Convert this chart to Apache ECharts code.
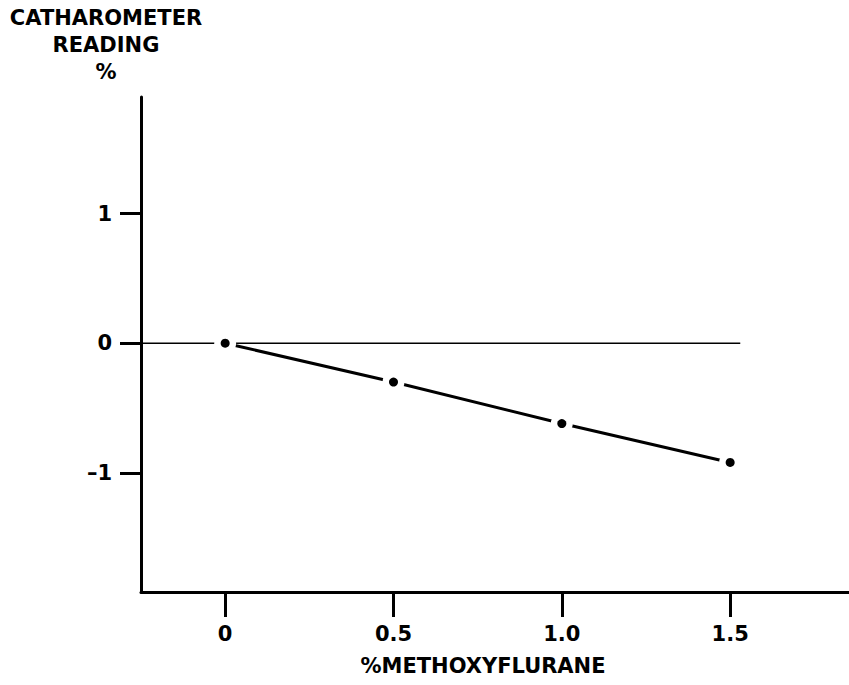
<!DOCTYPE html>
<html>
<head>
<meta charset="utf-8">
<script src="https://cdn.jsdelivr.net/npm/echarts@6/dist/echarts.min.js"></script>
<style>
html,body{margin:0;padding:0;background:#fff;}
#chart{width:849px;height:685px;}
</style>
</head>
<body>
<div id="chart"></div>
<script>
// Data
const methoxyflurane = [0, 0.5, 1.0, 1.5];
const catharometer = [0, -0.30, -0.62, -0.92];
const xTicks = [0, 0.5, 1.0, 1.5];
const xTickLabels = ['0', '0.5', '1.0', '1.5'];
const yTicks = [-1, 0, 1];
const yTickLabels = ['\u20131', '0', '1'];
const zeroLineX = [-0.25, 1.53];
const zeroLineY = [0, 0];

const points = methoxyflurane.map((x, i) => [x, catharometer[i]]);
const zeroLine = zeroLineX.map((x, i) => [x, zeroLineY[i]]);

const FONT = 'DejaVu Sans';
const chart = echarts.init(document.getElementById('chart'), null, {renderer: 'svg'});
chart.setOption({
  animation: false,
  backgroundColor: '#fff',
  grid: {left: 141, right: 0, top: 97, bottom: 93, containLabel: false},
  xAxis: {
    type: 'value',
    min: -0.25, max: 1.853,
    name: '%METHOXYFLURANE',
    nameLocation: 'middle',
    nameGap: 63,
    nameTextStyle: {color: '#000', fontFamily: FONT, fontSize: 21, fontWeight: 'bold', padding: [0, 24, 0, 0]},
    axisLine: {show: true, onZero: false, lineStyle: {color: '#000', width: 3}},
    axisTick: {show: true, inside: false, customValues: xTicks, length: 25, lineStyle: {color: '#000', width: 3}},
    axisLabel: {
      show: true, customValues: xTicks, margin: 31,
      color: '#000', fontFamily: FONT, fontSize: 21, fontWeight: 'bold',
      formatter: v => { const i = xTicks.indexOf(v); return i >= 0 ? xTickLabels[i] : ''; }
    },
    splitLine: {show: false}
  },
  yAxis: {
    type: 'value',
    min: -1.92, max: 1.9,
    name: 'CATHAROMETER\nREADING\n%',
    nameLocation: 'end',
    nameGap: 12,
    nameTextStyle: {color: '#000', fontFamily: FONT, fontSize: 21, fontWeight: 'bold', lineHeight: 27,
      align: 'center', verticalAlign: 'bottom', padding: [0, 70, 0, 0]},
    axisLine: {show: true, onZero: false, lineStyle: {color: '#000', width: 3}},
    axisTick: {show: true, inside: false, customValues: yTicks, length: 21, lineStyle: {color: '#000', width: 3}},
    axisLabel: {
      show: true, customValues: yTicks, margin: 29,
      color: '#000', fontFamily: FONT, fontSize: 21, fontWeight: 'bold',
      formatter: v => { const i = yTicks.indexOf(v); return i >= 0 ? yTickLabels[i] : ''; }
    },
    splitLine: {show: false}
  },
  series: [
    {
      type: 'line', data: zeroLine, symbol: 'none', z: 1,
      lineStyle: {color: '#000', width: 1.5}, silent: true
    },
    {
      type: 'line', data: points, symbol: 'none', z: 2,
      lineStyle: {color: '#000', width: 3}, silent: true
    },
    {
      type: 'scatter', data: points, symbol: 'circle', symbolSize: 22, z: 3,
      itemStyle: {color: '#fff', opacity: 1}, silent: true
    },
    {
      type: 'scatter', data: points, symbol: 'circle', symbolSize: 9, z: 4,
      itemStyle: {color: '#000', opacity: 1}, silent: true
    }
  ]
});
</script>
</body>
</html>
